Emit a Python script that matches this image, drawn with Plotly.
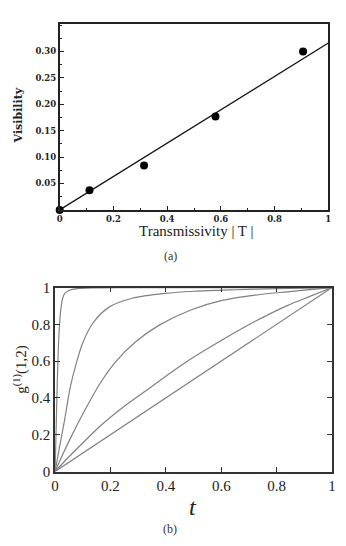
import plotly.graph_objects as go

# ---- panel (a): visibility vs transmissivity ----
trans = [0.0, 0.111, 0.314, 0.58, 0.906]
visib = [0.0, 0.037, 0.084, 0.177, 0.300]
fit_x = [0.0, 1.0]
fit_y = [0.0, 0.316]
a_xticks = [0, 0.2, 0.4, 0.6, 0.8, 1]
a_xlabels = ["0", "0.2", "0.4", "0.6", "0.8", "1"]
a_yticks = [0.05, 0.10, 0.15, 0.20, 0.25, 0.30]
a_ylabels = ["0.05", "0.10", "0.15", "0.20", "0.25", "0.30"]

# ---- panel (b): g1(1,2) vs t, five curves ----
c1_t = [0, 0.004, 0.008, 0.012, 0.016, 0.021, 0.027, 0.035, 0.05, 0.08, 0.15, 0.3, 0.6, 1.0]
c1_g = [0, 0.25, 0.49, 0.68, 0.80, 0.885, 0.94, 0.968, 0.984, 0.994, 0.998, 1.0, 1.0, 1.0]
c2_t = [0, 0.015, 0.032, 0.055, 0.075, 0.1, 0.138, 0.196, 0.279, 0.396, 0.502, 0.65, 0.8, 1.0]
c2_g = [0, 0.125, 0.26, 0.46, 0.58, 0.70, 0.81, 0.895, 0.942, 0.968, 0.98, 0.988, 0.994, 1.0]
c3_t = [0, 0.03, 0.06, 0.102, 0.161, 0.22, 0.29, 0.373, 0.49, 0.603, 0.721, 0.838, 0.93, 1.0]
c3_g = [0, 0.10, 0.195, 0.318, 0.476, 0.599, 0.704, 0.793, 0.878, 0.93, 0.959, 0.977, 0.99, 1.0]
c4_t = [0, 0.05, 0.1, 0.161, 0.25, 0.338, 0.42, 0.49, 0.603, 0.721, 0.838, 0.92, 1.0]
c4_g = [0, 0.08, 0.155, 0.245, 0.355, 0.45, 0.54, 0.612, 0.715, 0.815, 0.902, 0.952, 1.0]
c5_t = [0, 1.0]
c5_g = [0, 1.0]
b_ticks = [0, 0.2, 0.4, 0.6, 0.8, 1]
b_labels = ["0", "0.2", "0.4", "0.6", "0.8", "1"]

W, H = 346, 546
fig = go.Figure()

fig.add_trace(go.Scatter(x=fit_x, y=fit_y, mode="lines",
                         line=dict(color="#111", width=1.3),
                         xaxis="x", yaxis="y", showlegend=False))
fig.add_trace(go.Scatter(x=trans, y=visib, mode="markers",
                         marker=dict(color="#000", size=8),
                         cliponaxis=False,
                         xaxis="x", yaxis="y", showlegend=False))

for tt, gg in [(c1_t, c1_g), (c2_t, c2_g), (c3_t, c3_g), (c4_t, c4_g), (c5_t, c5_g)]:
    fig.add_trace(go.Scatter(x=tt, y=gg, mode="lines",
                             line=dict(color="#808080", width=1.2, shape="spline", smoothing=0.8),
                             xaxis="x2", yaxis="y2", showlegend=False))

def px_x(p):
    return p / W

def px_y(p):
    return 1 - p / H

tick_a = dict(family="DejaVu Serif", size=8.5, color="#222", weight="bold")
tick_b = dict(family="Liberation Serif", size=15, color="#222")

fig.update_layout(
    width=W, height=H,
    margin=dict(l=0, r=0, t=0, b=0),
    paper_bgcolor="white", plot_bgcolor="white",
    xaxis=dict(domain=[px_x(57), px_x(332)], range=[0, 1], anchor="y",
               tickvals=a_xticks, ticktext=a_xlabels,
               ticks="inside", ticklen=4, tickcolor="#222", tickwidth=1,
               minor=dict(dtick=0.1, ticks="inside", ticklen=2, tickcolor="#222"),
               showline=True, linecolor="#222", linewidth=1.8, mirror=True,
               showgrid=False, zeroline=False, tickfont=tick_a),
    yaxis=dict(domain=[px_y(208), px_y(16)], range=[0, 0.353], anchor="x",
               tickvals=a_yticks, ticktext=a_ylabels,
               ticks="inside", ticklen=4, tickcolor="#222", tickwidth=1,
               minor=dict(dtick=0.025, ticks="inside", ticklen=2, tickcolor="#222"),
               showline=True, linecolor="#222", linewidth=1.8, mirror=True,
               showgrid=False, zeroline=False, tickfont=tick_a),
    xaxis2=dict(domain=[px_x(52.3), px_x(335.8)], range=[0, 1], anchor="y2",
                tickvals=b_ticks, ticktext=b_labels,
                ticks="inside", ticklen=5, tickcolor="#333", tickwidth=1.2,
                showline=True, linecolor="#333", linewidth=1.5, mirror="ticks",
                showgrid=False, zeroline=False, tickfont=tick_b),
    yaxis2=dict(domain=[px_y(477.5), px_y(288)], range=[0, 1], anchor="x2",
                tickvals=b_ticks, ticktext=b_labels,
                ticks="inside", ticklen=5, tickcolor="#333", tickwidth=1.2,
                showline=True, linecolor="#333", linewidth=1.5, mirror="ticks",
                showgrid=False, zeroline=False, tickfont=tick_b),
)

ann = [
    dict(text="Transmissivity | T |", x=px_x(197), y=px_y(230),
         font=dict(family="Liberation Serif", size=15, color="#222")),
    dict(text="Visibility", x=px_x(15), y=px_y(111), textangle=-90,
         font=dict(family="DejaVu Serif", size=11, color="#222", weight="bold")),
    dict(text="(a)", x=px_x(170), y=px_y(255),
         font=dict(family="Liberation Serif", size=12, color="#333")),
    dict(text="t", x=px_x(193), y=px_y(514),
         font=dict(family="Liberation Serif", size=24, color="#222", style="italic")),
    dict(text="g<sup>(1)</sup>(1,2)", x=px_x(16), y=px_y(372), textangle=-90,
         font=dict(family="Liberation Serif", size=15, color="#222")),
    dict(text="(b)", x=px_x(170), y=px_y(537),
         font=dict(family="Liberation Serif", size=12, color="#333")),
]
for a in ann:
    a.update(xref="paper", yref="paper", showarrow=False, xanchor="center", yanchor="middle")
fig.update_layout(annotations=ann)

fig.write_html("out.html")
